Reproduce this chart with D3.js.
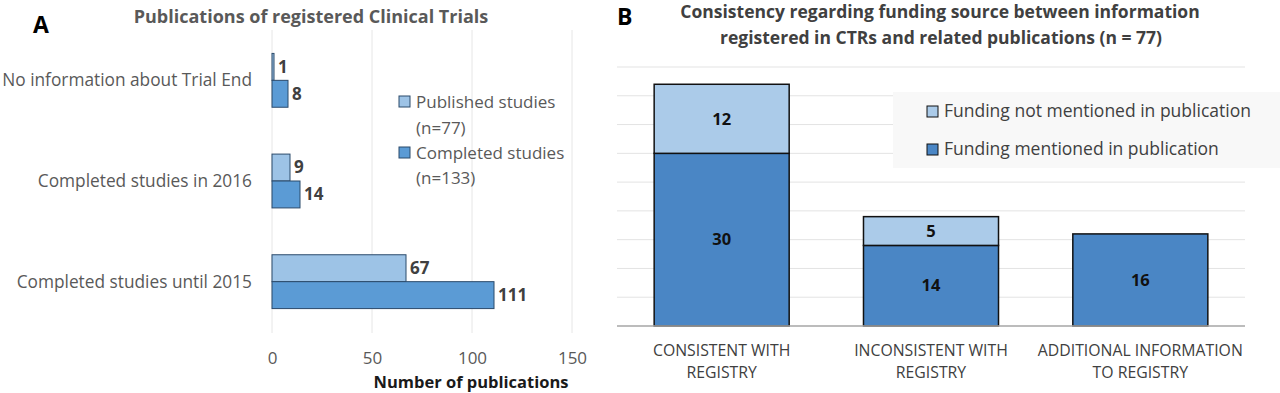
<!DOCTYPE html>
<html><head><meta charset="utf-8">
<script src="https://cdn.jsdelivr.net/npm/d3@7"></script>
<style>body{margin:0;background:#fff}svg{display:block}text{font-family:"Open Sans",Lato,sans-serif}</style>
</head><body>
<svg id="c" width="1280" height="393"></svg>
<script>
// Panel A data
const catsA = ["No information about Trial End", "Completed studies in 2016", "Completed studies until 2015"];
const publishedA = [1, 9, 67];
const completedA = [8, 14, 111];
const ticksA = [0, 50, 100, 150];
const seriesA = [["Published studies", "(n=77)"], ["Completed studies", "(n=133)"]];
// Panel B data
const catsB = [["CONSISTENT WITH", "REGISTRY"], ["INCONSISTENT WITH", "REGISTRY"], ["ADDITIONAL INFORMATION", "TO REGISTRY"]];
const mentionedB = [30, 14, 16];
const notMentionedB = [12, 5, 0];
const seriesB = ["Funding not mentioned in publication", "Funding mentioned in publication"];

const svg = d3.select("#c");
const colPub = "#9DC3E6", colComp = "#5B9BD5";
const colNot = "#ABCBE9", colMen = "#4A86C5";

// ---------- Panel A ----------
const gA = svg.append("g");
const xA = d3.scaleLinear().domain([0, 150]).range([272, 572]);
const yA = d3.scaleBand().domain(catsA).range([30, 332]).paddingInner(0).paddingOuter(0);
const sub = d3.scaleBand().domain(["p", "c"]).range([0, yA.bandwidth()]).paddingInner(0).paddingOuter(0.87);

gA.selectAll(".grid").data(ticksA).enter().append("line")
  .attr("x1", d => xA(d)).attr("x2", d => xA(d)).attr("y1", 30).attr("y2", 333)
  .attr("stroke", "#e6e6e6").attr("stroke-width", 1);

const xAxisA = d3.axisBottom(xA).tickValues(ticksA).tickSize(0).tickPadding(0);
const ax = gA.append("g").attr("transform", "translate(0,358)").call(xAxisA);
ax.select(".domain").remove();
ax.selectAll("text").attr("font-size", 17).attr("fill", "#595959").attr("font-family", "Open Sans").attr("dy", "0.35em");

gA.append("text").attr("x", 471).attr("y", 382).attr("dy", "0.35em").attr("text-anchor", "middle")
  .attr("font-size", 16.5).attr("font-weight", "bold").attr("fill", "#1a1a1a").text("Number of publications");

catsA.forEach((c, i) => {
  const y0 = yA(c);
  [["p", publishedA[i], colPub], ["c", completedA[i], colComp]].forEach(([k, v, col]) => {
    gA.append("rect").attr("x", xA(0)).attr("y", y0 + sub(k)).attr("width", xA(v) - xA(0)).attr("height", sub.bandwidth())
      .attr("fill", col).attr("stroke", "#2b4a6b").attr("stroke-width", 1);
    gA.append("text").attr("x", xA(v) + 4).attr("y", y0 + sub(k) + sub.bandwidth() / 2).attr("dy", "0.35em")
      .attr("font-size", 17).attr("font-weight", "bold").attr("fill", "#404040").text(v);
  });
  gA.append("text").attr("x", 252).attr("y", y0 + yA.bandwidth() / 2).attr("dy", "0.35em").attr("text-anchor", "end")
    .attr("font-size", 17.3).attr("fill", "#595959").text(c);
});

gA.append("text").attr("x", 311).attr("y", 17).attr("dy", "0.35em").attr("text-anchor", "middle")
  .attr("font-size", 18).attr("font-weight", "bold").attr("fill", "#595959").text("Publications of registered Clinical Trials");
gA.append("text").attr("x", 33).attr("y", 33).attr("font-size", 23).attr("font-weight", "bold").attr("fill", "#000").text("A");

// legend A
const legAy = [[102, 128], [153, 178]];
[colPub, colComp].forEach((col, i) => {
  const [y1, y2] = legAy[i];
  gA.append("rect").attr("x", 399).attr("y", y1 - 6).attr("width", 11).attr("height", 11)
    .attr("fill", col).attr("stroke", "#2b4a6b").attr("stroke-width", 1);
  gA.append("text").attr("x", 416).attr("y", y1).attr("dy", "0.35em").attr("font-size", 17).attr("fill", "#595959").text(seriesA[i][0]);
  gA.append("text").attr("x", 416).attr("y", y2).attr("dy", "0.35em").attr("font-size", 17).attr("fill", "#595959").text(seriesA[i][1]);
});

// ---------- Panel B ----------
const gB = svg.append("g");
const xB = d3.scaleBand().domain(d3.range(catsB.length)).range([617, 1245]).paddingInner(0.355).paddingOuter(0.1775);
const yB = d3.scaleLinear().domain([0, 45]).range([326, 67]);

gB.selectAll(".gridB").data(d3.range(5, 50, 5)).enter().append("line")
  .attr("x1", 617).attr("x2", 1245).attr("y1", d => yB(d)).attr("y2", d => yB(d))
  .attr("stroke", "#e3e3e3").attr("stroke-width", 1);

// legend background
gB.append("rect").attr("x", 893).attr("y", 92).attr("width", 387).attr("height", 76).attr("fill", "#f8f8f8");

const stackData = catsB.map((c, i) => ({i, men: mentionedB[i], not: notMentionedB[i]}));
const stack = d3.stack().keys(["men", "not"])(stackData);
const colsB = {men: colMen, not: colNot};
stack.forEach(layer => {
  layer.forEach((d, i) => {
    const v = d[1] - d[0];
    if (v <= 0) return;
    gB.append("rect").attr("x", xB(i)).attr("y", yB(d[1])).attr("width", xB.bandwidth()).attr("height", yB(d[0]) - yB(d[1]))
      .attr("fill", colsB[layer.key]).attr("stroke", "#111").attr("stroke-width", 1.5);
    gB.append("text").attr("x", xB(i) + xB.bandwidth() / 2).attr("y", (yB(d[0]) + yB(d[1])) / 2).attr("dy", "0.35em")
      .attr("text-anchor", "middle").attr("font-size", 16.5).attr("font-weight", "bold").attr("fill", "#111").text(v);
  });
});

gB.append("line").attr("x1", 617).attr("x2", 1245).attr("y1", yB(0)).attr("y2", yB(0)).attr("stroke", "#a6a6a6").attr("stroke-width", 1.5);

catsB.forEach((c, i) => {
  c.forEach((line, j) => {
    gB.append("text").attr("x", xB(i) + xB.bandwidth() / 2).attr("y", 350 + j * 22).attr("dy", "0.35em")
      .attr("text-anchor", "middle").attr("font-size", 15.8).attr("fill", "#404040").text(line);
  });
});

gB.append("text").attr("x", 940).attr("y", 12).attr("dy", "0.35em").attr("text-anchor", "middle")
  .attr("font-size", 17.5).attr("font-weight", "bold").attr("fill", "#404040").text("Consistency regarding funding source between information");
gB.append("text").attr("x", 941).attr("y", 38).attr("dy", "0.35em").attr("text-anchor", "middle")
  .attr("font-size", 17.5).attr("font-weight", "bold").attr("fill", "#404040").text("registered in CTRs and related publications (n = 77)");
gB.append("text").attr("x", 617).attr("y", 25).attr("font-size", 23).attr("font-weight", "bold").attr("fill", "#000").text("B");

const legBy = [111, 149];
[colNot, colMen].forEach((col, i) => {
  const y = legBy[i];
  gB.append("rect").attr("x", 927).attr("y", y - 5).attr("width", 11).attr("height", 11)
    .attr("fill", col).attr("stroke", "#111").attr("stroke-width", 1);
  gB.append("text").attr("x", 944).attr("y", y).attr("dy", "0.35em").attr("font-size", 17.5).attr("fill", "#404040").text(seriesB[i]);
});
</script>
</body></html>
